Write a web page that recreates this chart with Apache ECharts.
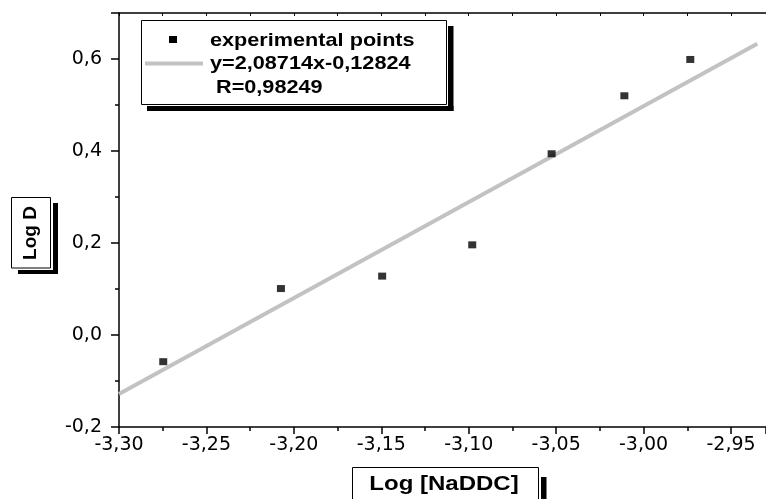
<!DOCTYPE html>
<html>
<head>
<meta charset="utf-8">
<script src="https://cdn.jsdelivr.net/npm/echarts@6/dist/echarts.min.js"></script>
<style>html,body{margin:0;padding:0;background:#fff}#c{width:766px;height:499px}</style>
</head>
<body>
<div id="c"></div>
<script>
// Data
var pointsX = [-3.2747, -3.2074, -3.1495, -3.0980, -3.0526, -3.0110, -2.9733];
var pointsY = [-0.058, 0.101, 0.128, 0.196, 0.394, 0.520, 0.599];
var fitX = [-3.30, -2.935];
var fitY = [-0.128, 0.633];
var xTicks = [-3.30, -3.25, -3.20, -3.15, -3.10, -3.05, -3.00, -2.95];
var yTicks = [-0.2, 0.0, 0.2, 0.4, 0.6];
var legendTexts = ['experimental points', 'y=2,08714x-0,12824', ' R=0,98249'];
var xTitle = 'Log [NaDDC]';
var yTitle = 'Log D';

var FONT = '"Liberation Sans", Arial, sans-serif';
var TICKFONT = '"DejaVu Sans", "Liberation Sans", sans-serif';
function zip(a, b) { return a.map(function (v, i) { return [v, b[i]]; }); }
function fmt(d) { return function (v) { return v.toFixed(d).replace('.', ','); }; }

var chart = echarts.init(document.getElementById('c'), null, { renderer: 'canvas' });
chart.setOption({
  animation: false,
  backgroundColor: '#ffffff',
  grid: { left: 119, top: 13, right: 0, bottom: 72, containLabel: false },
  xAxis: [{
    type: 'value', min: -3.30, max: -2.93, interval: 0.05,
    axisLine: { show: true, onZero: false, lineStyle: { color: '#000', width: 1.5 } },
    axisTick: { show: true, inside: false, length: 7, lineStyle: { color: '#000', width: 1.5 } },
    minorTick: { show: true, splitNumber: 2, length: 4, lineStyle: { color: '#000', width: 1.5 } },
    axisLabel: { show: true, margin: 9, fontSize: 19, color: '#000', fontFamily: TICKFONT,
      showMaxLabel: false, formatter: fmt(2) },
    splitLine: { show: false }
  }, {
    type: 'value', position: 'top', min: -3.30, max: -2.93, interval: 0.05,
    axisLine: { show: true, onZero: false, lineStyle: { color: '#000', width: 1.5 } },
    axisTick: { show: true, inside: true, length: 3, lineStyle: { color: '#000', width: 1 } },
    minorTick: { show: true, splitNumber: 2, length: 3, lineStyle: { color: '#000', width: 1 } },
    axisLabel: { show: false },
    splitLine: { show: false }
  }],
  yAxis: [{
    type: 'value', min: -0.2, max: 0.7, interval: 0.2,
    axisLine: { show: true, onZero: false, lineStyle: { color: '#000', width: 1.5 } },
    axisTick: { show: true, inside: false, length: 8, lineStyle: { color: '#000', width: 1.5 } },
    minorTick: { show: true, splitNumber: 2, length: 4, lineStyle: { color: '#000', width: 1.5 } },
    axisLabel: { show: true, margin: 17, fontSize: 19, color: '#000', fontFamily: TICKFONT,
      showMaxLabel: false, formatter: fmt(1) },
    splitLine: { show: false }
  }],
  series: [{
    name: legendTexts[1], type: 'line', data: zip(fitX, fitY), showSymbol: false, symbol: 'none',
    lineStyle: { color: '#c2c2c2', width: 4 }, z: 2
  }, {
    name: legendTexts[0], type: 'scatter', data: zip(pointsX, pointsY), symbol: 'rect', symbolSize: [8, 7],
    itemStyle: { color: '#000' }, z: 3
  }],
  graphic: [
    // legend box + shadow
    { type: 'rect', shape: { x: 448, y: 26, width: 5.5, height: 85 }, style: { fill: '#000' }, z: 10 },
    { type: 'rect', shape: { x: 147, y: 106, width: 306.5, height: 5 }, style: { fill: '#000' }, z: 10 },
    { type: 'rect', shape: { x: 141.5, y: 20.5, width: 305, height: 84 }, style: { fill: '#fff', stroke: '#000', lineWidth: 1 }, z: 11 },
    { type: 'rect', shape: { x: 169, y: 36, width: 8, height: 7 }, style: { fill: '#000' }, z: 12 },
    { type: 'line', shape: { x1: 145, y1: 63.5, x2: 203, y2: 63.5 }, style: { stroke: '#c2c2c2', lineWidth: 4 }, z: 12 },
    { type: 'text', x: 210, y: 41, scaleX: 1.14, style: { text: legendTexts[0], font: 'bold 19px ' + FONT, fill: '#000', textVerticalAlign: 'middle', verticalAlign: 'middle' }, z: 12 },
    { type: 'text', x: 210, y: 64, scaleX: 1.14, style: { text: legendTexts[1], font: 'bold 19px ' + FONT, fill: '#000', textVerticalAlign: 'middle', verticalAlign: 'middle' }, z: 12 },
    { type: 'text', x: 210, y: 88, scaleX: 1.14, style: { text: legendTexts[2], font: 'bold 19px ' + FONT, fill: '#000', textVerticalAlign: 'middle', verticalAlign: 'middle' }, z: 12 },
    // y title box
    { type: 'rect', shape: { x: 53, y: 203, width: 5, height: 71 }, style: { fill: '#000' }, z: 10 },
    { type: 'rect', shape: { x: 18, y: 270, width: 40, height: 4 }, style: { fill: '#000' }, z: 10 },
    { type: 'rect', shape: { x: 11.5, y: 197.5, width: 39, height: 70.5 }, style: { fill: '#fff', stroke: '#000', lineWidth: 1 }, z: 11 },
    { type: 'text', x: 31, y: 233, rotation: Math.PI / 2, style: { text: yTitle, font: 'bold 19px ' + FONT, fill: '#000', align: 'center', textAlign: 'center', verticalAlign: 'middle', textVerticalAlign: 'middle' }, z: 12 },
    // x title box
    { type: 'rect', shape: { x: 541, y: 477, width: 5.5, height: 30 }, style: { fill: '#000' }, z: 10 },
    { type: 'rect', shape: { x: 352.5, y: 467.5, width: 186, height: 40 }, style: { fill: '#fff', stroke: '#000', lineWidth: 1 }, z: 11 },
    { type: 'text', x: 444, y: 484, scaleX: 1.2, style: { text: xTitle, font: 'bold 20px ' + FONT, fill: '#000', align: 'center', textAlign: 'center', verticalAlign: 'middle', textVerticalAlign: 'middle' }, z: 12 }
  ]
});
</script>
</body>
</html>
